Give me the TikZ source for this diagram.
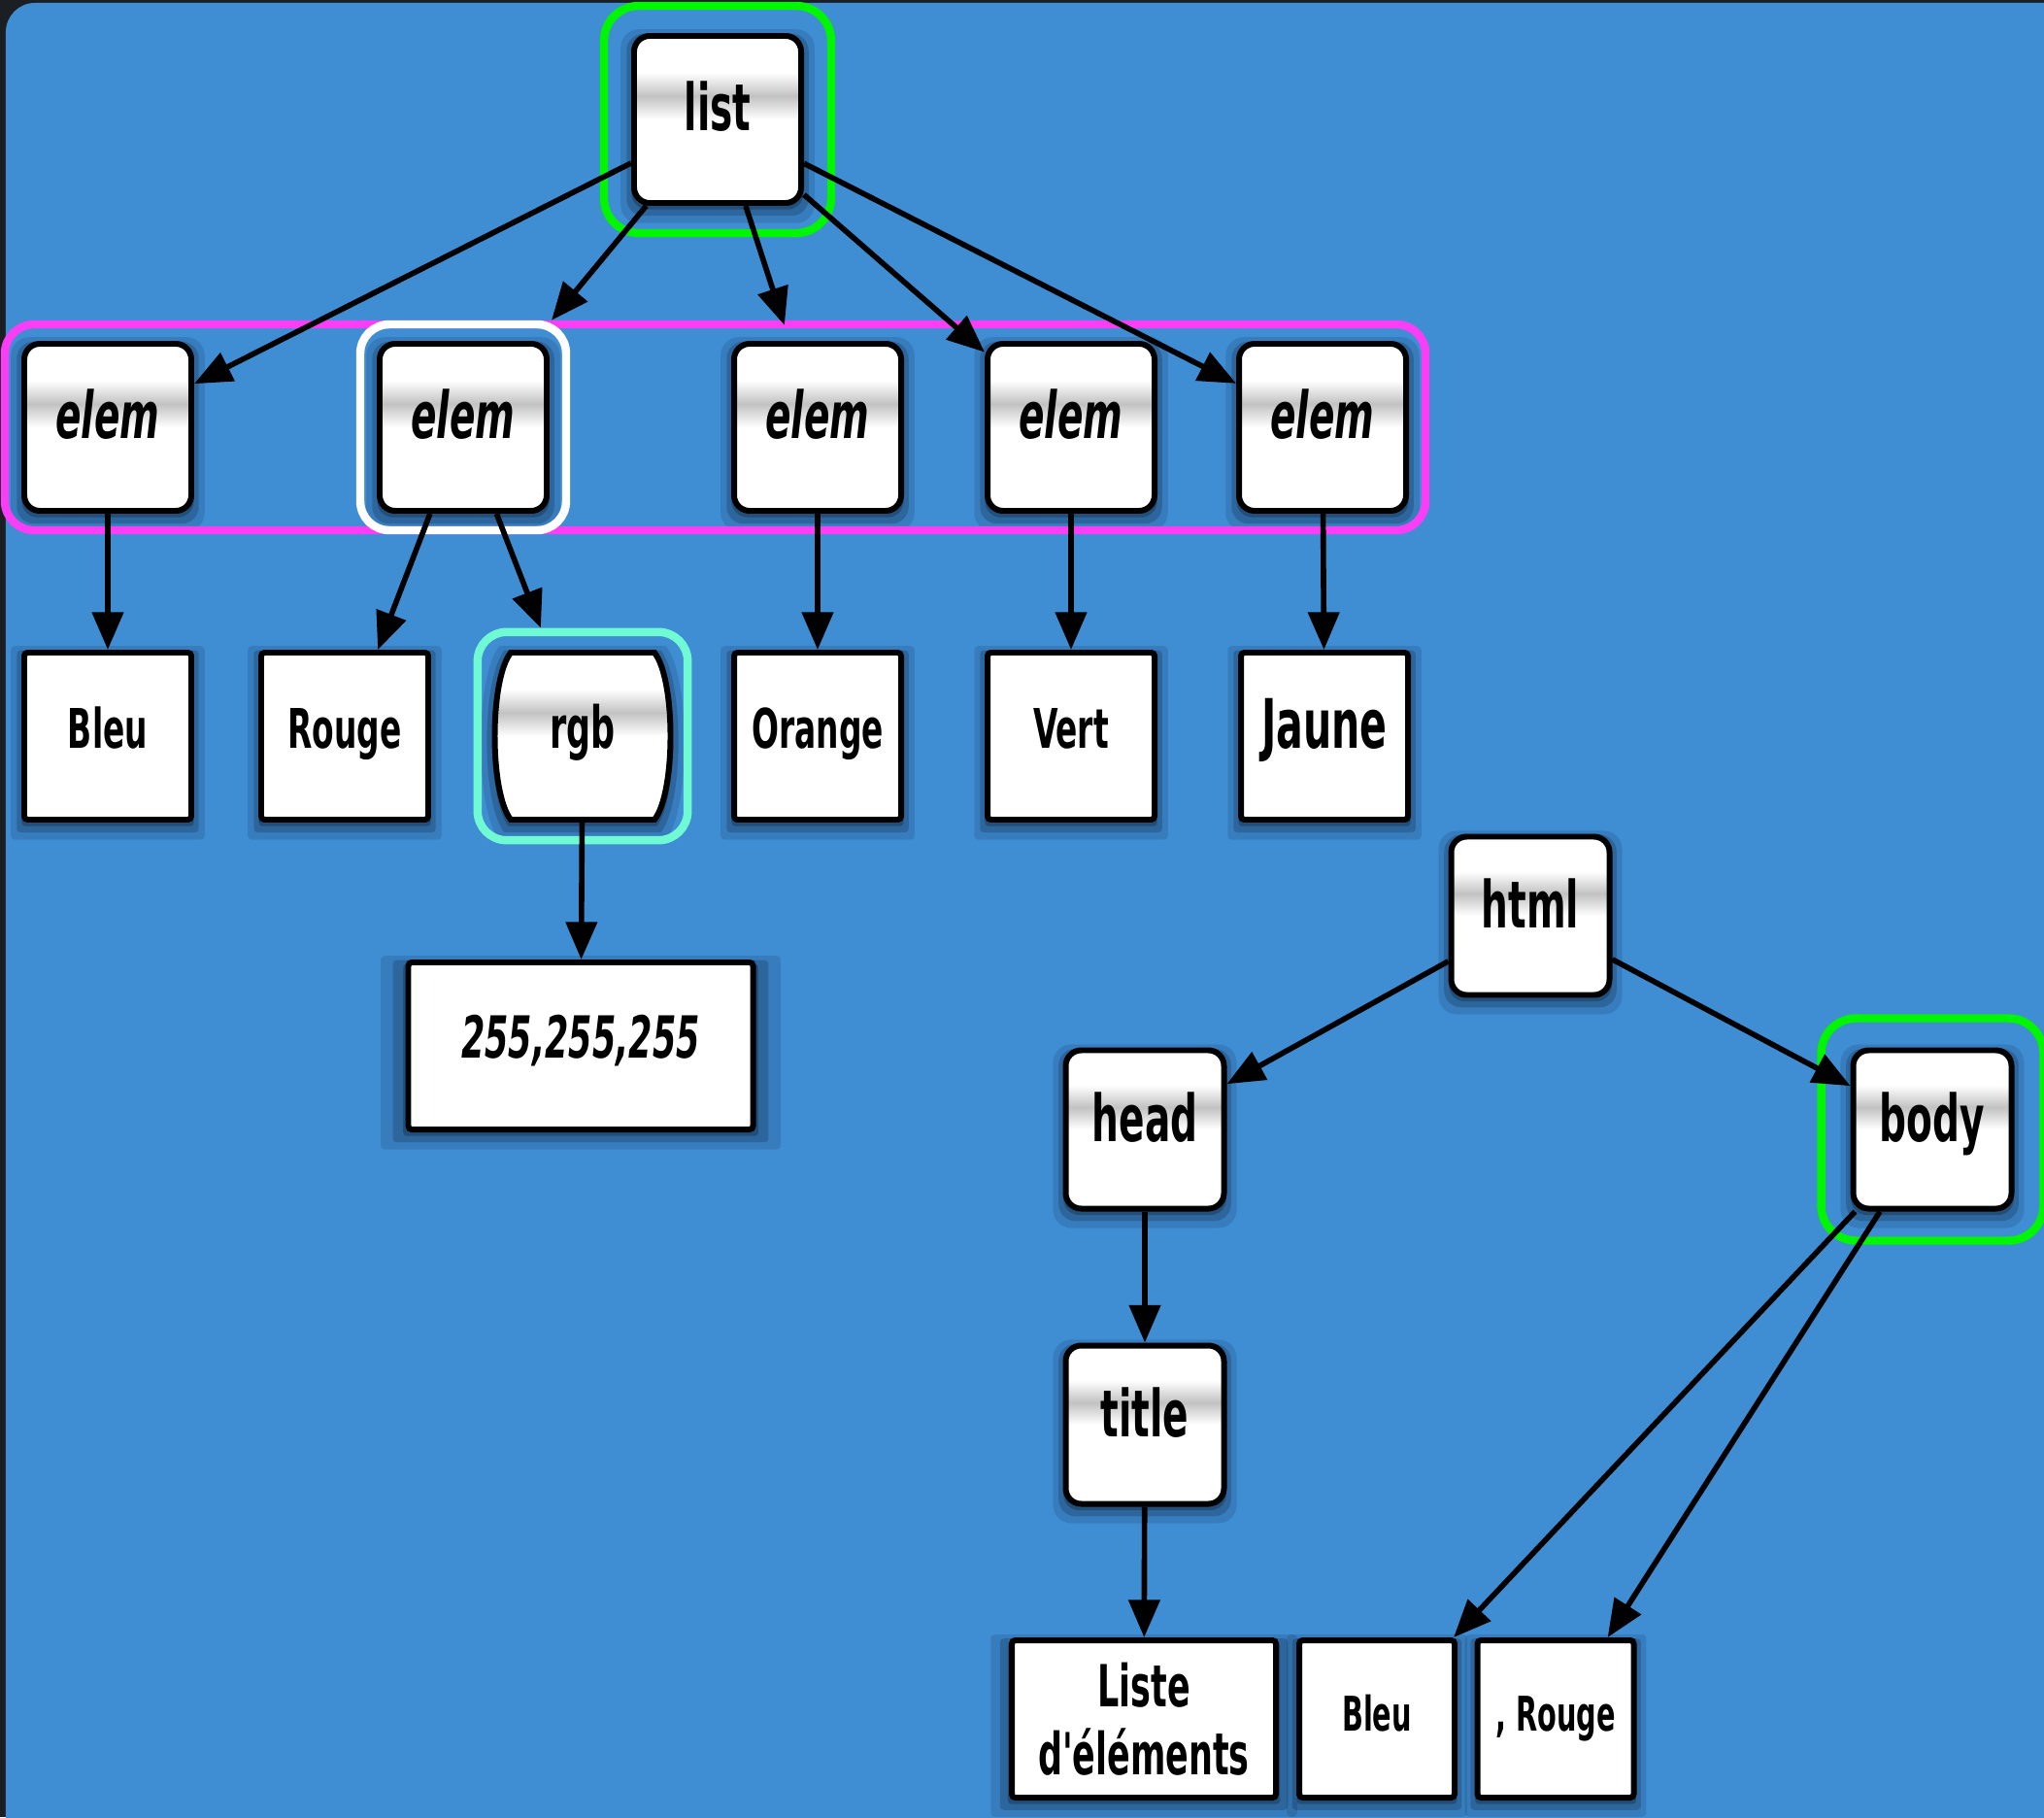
\documentclass[tikz,border=0pt]{standalone}
\usepackage{fontspec}
\newfontfamily\boxfont{DejaVu Sans Condensed}[FakeStretch=0.65]
\usetikzlibrary{arrows.meta}
\usetikzlibrary{positioning}
\usetikzlibrary{fit}
\usetikzlibrary{shadows}
\definecolor{bgblue}{RGB}{63,142,212}
\definecolor{bgdark}{RGB}{27,31,36}
\definecolor{shadowblue}{RGB}{16,34,60}
\definecolor{hlgreen}{RGB}{0,245,0}
\definecolor{hlpink}{RGB}{250,62,245}
\definecolor{hlaqua}{RGB}{112,250,212}
\pgfdeclareverticalshading{glossband}{100bp}{color(0bp)=(white); color(50bp)=(white);
  color(57bp)=(black!24); color(64bp)=(white); color(100bp)=(white)}
\tikzset{
    glow/.style={
        general shadow={fill=shadowblue, opacity=.15, shadow scale=1.16, shadow yshift=-0.06cm},
        general shadow={fill=shadowblue, opacity=.25, shadow scale=1.09, shadow yshift=-0.05cm},
        general shadow={fill=shadowblue, opacity=.35, shadow scale=1.03, shadow yshift=-0.04cm}},
    gloss/.style={
        draw, line width=1.7pt,
        rounded corners=0.16cm,
        shade, shading=glossband, glow,
        minimum width=1.72cm, minimum height=1.72cm, inner sep=0pt,
        text height=0.5cm, text depth=0.26cm,
        font=\boxfont\bfseries\fontsize{19}{22}\selectfont},
    leaf/.style={
        draw, line width=1.7pt,
        rounded corners=1pt,
        fill=white, glow,
        minimum width=1.72cm, minimum height=1.72cm, inner sep=0pt,
        text height=0.45cm, text depth=0.2cm,
        font=\boxfont\bfseries\fontsize{16}{20}\selectfont},
    hilite/.style={
        draw, line width=2.4pt,
        rounded corners=0.3cm,
        inner sep=0.2cm},
    every edge/.style={
        draw,
        -{Triangle[length=11pt,width=9pt]},
        line width=1.6pt}}

\begin{document}
\begin{tikzpicture}
    \useasboundingbox (0,0) rectangle (21.05,-18.71);
    \clip (0,0) rectangle (21.05,-18.71);
    \fill[bgdark] (0,0) rectangle (21.05,-18.71);
    \fill[bgblue, rounded corners=0.3cm] (0.06,-0.03) rectangle (21.6,-19.3);

    % list
    \node[gloss] (list) at (7.39,-1.23) {list};
    \node[gloss,font=\boxfont\bfseries\itshape\fontsize{19}{22}\selectfont] (elem1) at (1.11,-4.40) {elem};
    \node[gloss,font=\boxfont\bfseries\itshape\fontsize{19}{22}\selectfont] (elem2) at (4.77,-4.40) {elem};
    \node[gloss,font=\boxfont\bfseries\itshape\fontsize{19}{22}\selectfont] (elem3) at (8.42,-4.40) {elem};
    \node[gloss,font=\boxfont\bfseries\itshape\fontsize{19}{22}\selectfont] (elem4) at (11.03,-4.40) {elem};
    \node[gloss,font=\boxfont\bfseries\itshape\fontsize{19}{22}\selectfont] (elem5) at (13.62,-4.40) {elem};

    \node[leaf] (bleu) at (1.11,-7.58) {Bleu};
    \node[leaf] (rouge) at (3.55,-7.58) {Rouge};
    \begin{scope}[shift={(6.00,-7.58)}]
        \path[draw, line width=1.7pt, shade, shading=glossband, glow]
            (-0.74,0.86) -- (0.74,0.86) .. controls (0.96,0.58) and (0.96,-0.58) .. (0.74,-0.86)
            -- (-0.74,-0.86) .. controls (-0.96,-0.58) and (-0.96,0.58) .. (-0.74,0.86) -- cycle;
    \end{scope}
    \node[minimum width=1.75cm, minimum height=1.73cm, inner sep=0pt,
          text height=0.5cm, text depth=0.26cm,
          font=\boxfont\bfseries\fontsize{17}{20}\selectfont] (rgb) at (6.00,-7.58) {rgb};
    \node[leaf] (orange) at (8.42,-7.58) {Orange};
    \node[leaf] (vert) at (11.03,-7.58) {Vert};
    \node[leaf,font=\boxfont\bfseries\fontsize{20}{24}\selectfont] (jaune) at (13.64,-7.58) {Jaune};
    \node[leaf,minimum width=3.55cm,font=\boxfont\bfseries\itshape\fontsize{17}{20}\selectfont] (val) at (5.98,-10.77) {255,255,255};

    % html
    \node[gloss,minimum width=1.63cm,minimum height=1.63cm] (html) at (15.76,-9.43) {html};
    \node[gloss,minimum width=1.63cm,minimum height=1.63cm] (head) at (11.79,-11.63) {head};
    \node[gloss,minimum width=1.63cm,minimum height=1.63cm] (body) at (19.90,-11.63) {body};
    \node[gloss,minimum width=1.63cm,minimum height=1.63cm] (title) at (11.79,-14.67) {title};
    \node[leaf,minimum width=2.72cm,minimum height=1.62cm,align=center,text height=,text depth=,
          font=\boxfont\bfseries\fontsize{17}{20}\selectfont] (liste) at (11.78,-17.70) {Liste\\d'éléments};
    \node[leaf,minimum width=1.60cm,minimum height=1.62cm,
          font=\boxfont\bfseries\fontsize{14}{18}\selectfont] (bleub) at (14.18,-17.70) {Bleu};
    \node[leaf,minimum width=1.61cm,minimum height=1.62cm,
          font=\boxfont\bfseries\fontsize{14}{18}\selectfont] (rougeb) at (16.02,-17.70) {, Rouge};

    % highlights
    \node[hilite,hlgreen,inner sep=0.28cm,rounded corners=0.36cm,fit=(list)] (hllist) {};
    \node[hilite,hlpink,inner sep=0.17cm,fit=(elem1)(elem5)] (hlrow) {};
    \node[hilite,white,inner sep=0.17cm,fit=(elem2)] (hlsel) {};
    \node[hilite,hlaqua,inner sep=0.2cm,fit=(rgb)] (hlrgb) {};
    \node[hilite,hlgreen,inner sep=0.3cm,rounded corners=0.36cm,fit=(body)] (hlbody) {};

    \draw (list) edge (elem1);
    \draw (list) edge (hlsel);
    \draw (list) edge[shorten >=1.7mm] (elem3);
    \draw (list) edge (elem4);
    \draw (list) edge (elem5);

    \draw (elem1) edge (bleu);
    \draw (elem2) edge (rouge);
    \draw (elem2) edge (hlrgb);
    \draw (elem3) edge (orange);
    \draw (elem4) edge (vert);
    \draw (elem5) edge (jaune);
    \draw (rgb) edge (val);

    \draw (html) edge (head);
    \draw (html) edge (body);
    \draw (head) edge (title);
    \draw (title) edge (liste);
    \draw (body) edge (bleub);
    \draw (body) edge (rougeb);
\end{tikzpicture}
\end{document}
